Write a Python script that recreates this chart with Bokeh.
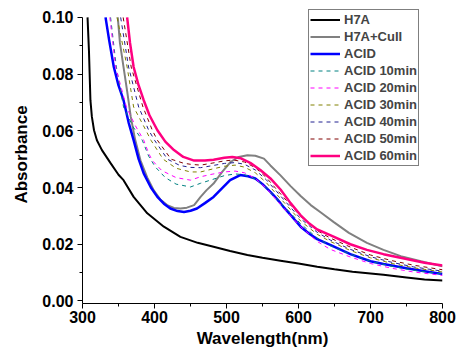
from bokeh.plotting import figure
from bokeh.models import FixedTicker, PrintfTickFormatter, Range1d, Legend, LegendItem
from bokeh.embed import file_html
from bokeh.resources import INLINE

# ---- data ----
h7a_x = [307, 309, 311, 313, 316, 320, 327, 339, 350, 357, 371, 390, 413, 436, 460, 482, 505, 529, 550, 575, 600, 626, 650, 675, 700, 718, 750, 775, 800]
h7a_y = [0.100, 0.088, 0.0708, 0.065, 0.0602, 0.0567, 0.0532, 0.0486, 0.0445, 0.0426, 0.0367, 0.0309, 0.0262, 0.0226, 0.0205, 0.0191, 0.0176, 0.0162, 0.0152, 0.0142, 0.0132, 0.0121, 0.0112, 0.0103, 0.0097, 0.0092, 0.0083, 0.0076, 0.0072]

cu_x = [349, 352, 357, 362, 367, 373, 380.5, 390, 399, 408, 417.6, 427, 436, 445, 455, 464, 472, 482, 494, 505.6, 517, 529, 540, 552, 561, 575, 589, 603, 617, 632, 649, 670, 695, 718, 742, 770, 800]
cu_y = [0.100, 0.091, 0.0825, 0.074, 0.065, 0.057, 0.0496, 0.0435, 0.039, 0.0358, 0.0338, 0.0328, 0.0326, 0.0329, 0.0338, 0.0367, 0.039, 0.0414, 0.0455, 0.049, 0.0508, 0.0514, 0.0512, 0.0502, 0.0478, 0.0443, 0.0405, 0.037, 0.0338, 0.031, 0.0278, 0.024, 0.0205, 0.018, 0.0158, 0.014, 0.0122]

acid_x = [332, 337, 343.5, 350, 357, 364, 371, 378, 385, 395, 404, 413, 422, 432, 441, 450, 459, 470, 482, 494, 505, 519, 530, 540, 550, 561, 570, 579, 589, 603, 615, 626, 644, 672, 700, 718, 750, 775, 800]
acid_y = [0.100, 0.092, 0.0825, 0.076, 0.0708, 0.063, 0.0567, 0.050, 0.045, 0.040, 0.0367, 0.0343, 0.0326, 0.0317, 0.0314, 0.0318, 0.0326, 0.0345, 0.0367, 0.0398, 0.0426, 0.0444, 0.0440, 0.0432, 0.0412, 0.0385, 0.036, 0.0332, 0.0303, 0.0262, 0.0237, 0.0218, 0.0198, 0.0165, 0.0140, 0.0130, 0.0115, 0.0105, 0.0095]

a10_x = [339, 347, 357, 370, 383, 392, 401, 415, 430, 450, 464, 480, 497, 512, 525, 540, 555, 570, 589, 603, 626, 644, 672, 700, 730, 760, 800]
a10_y = [0.100, 0.0825, 0.0684, 0.0615, 0.0567, 0.051, 0.0473, 0.0435, 0.0412, 0.0402, 0.0415, 0.0428, 0.0442, 0.0448, 0.0445, 0.0430, 0.0400, 0.0360, 0.031, 0.0272, 0.0222, 0.0195, 0.0165, 0.0140, 0.0122, 0.0108, 0.0095]

a20_x = [338, 346, 361, 373, 385, 392, 397, 410, 430, 450, 464, 480, 497, 512, 525, 540, 555, 570, 589, 603, 626, 644, 672, 700, 730, 760, 800]
a20_y = [0.100, 0.0825, 0.0684, 0.062, 0.0567, 0.052, 0.0495, 0.0460, 0.0435, 0.0426, 0.0438, 0.0447, 0.0455, 0.0458, 0.0452, 0.0432, 0.0398, 0.0355, 0.030, 0.0262, 0.0210, 0.0182, 0.0155, 0.0132, 0.0115, 0.0102, 0.009]

a30_x = [348, 362, 371, 388, 395, 412, 430, 450, 464, 480, 497, 512, 525, 540, 555, 570, 589, 603, 626, 644, 672, 700, 730, 760, 800]
a30_y = [0.100, 0.0825, 0.0684, 0.0602, 0.0567, 0.0500, 0.0468, 0.0455, 0.0455, 0.0465, 0.0475, 0.0479, 0.0472, 0.0452, 0.0418, 0.0375, 0.0322, 0.0282, 0.0235, 0.021, 0.0178, 0.0152, 0.0132, 0.0117, 0.0102]

a40_x = [353, 364, 378, 392, 400, 418, 435, 450, 464, 480, 497, 512, 525, 540, 555, 570, 589, 603, 626, 644, 672, 700, 730, 760, 800]
a40_y = [0.100, 0.0825, 0.0684, 0.0602, 0.0567, 0.0500, 0.0478, 0.0471, 0.0470, 0.0477, 0.0485, 0.0488, 0.0482, 0.0462, 0.0428, 0.0385, 0.0330, 0.029, 0.0242, 0.0215, 0.0182, 0.0156, 0.0136, 0.0120, 0.0105]

a50_x = [356.5, 367.6, 384, 397, 404, 423, 440, 450, 464, 480, 497, 510, 525, 540, 555, 570, 589, 603, 626, 644, 672, 700, 730, 760, 800]
a50_y = [0.100, 0.0825, 0.0684, 0.0602, 0.0567, 0.050, 0.0486, 0.0482, 0.0479, 0.0486, 0.0494, 0.0497, 0.0490, 0.0470, 0.0436, 0.0392, 0.0338, 0.0298, 0.0248, 0.0222, 0.0190, 0.0162, 0.0142, 0.0126, 0.011]

a60_x = [362, 366, 371, 378, 385, 393, 404, 415, 427, 440, 455, 470, 482, 497, 508, 520, 533, 547, 561, 575, 589, 603, 615, 626, 644, 672, 695, 718, 750, 775, 800]
a60_y = [0.100, 0.091, 0.0825, 0.076, 0.0708, 0.0655, 0.0602, 0.0562, 0.0532, 0.0508, 0.0495, 0.0495, 0.0498, 0.0505, 0.0508, 0.0503, 0.0487, 0.0462, 0.0432, 0.0393, 0.0345, 0.0302, 0.0273, 0.0252, 0.0232, 0.0200, 0.0180, 0.0165, 0.0148, 0.0135, 0.0125]

x_ticks = [300, 400, 500, 600, 700, 800]
x_minor = [350, 450, 550, 650, 750]
y_ticks = [0.00, 0.02, 0.04, 0.06, 0.08, 0.10]
y_minor = [0.01, 0.03, 0.05, 0.07, 0.09]

FONT = "Liberation Sans"

y0, y1 = -0.0009, 0.1042
p = figure(width=461, height=358, output_backend="svg", toolbar_location=None,
           x_range=Range1d(300, 800), y_range=Range1d(y0, y1),
           min_border_left=82, min_border_right=19, min_border_top=5, min_border_bottom=55)
p.outline_line_color = None
p.xgrid.visible = False
p.ygrid.visible = False
p.background_fill_color = "white"
p.border_fill_color = "white"

series = [
    ("H7A", h7a_x, h7a_y, "#000000", 2, "solid"),
    ("H7A+CuII", cu_x, cu_y, "#808080", 2, "solid"),
    ("ACID", acid_x, acid_y, "#0000FF", 2.5, "solid"),
    ("ACID 10min", a10_x, a10_y, "#008080", 1, "4 4"),
    ("ACID 20min", a20_x, a20_y, "#FF00FF", 1, "4 4"),
    ("ACID 30min", a30_x, a30_y, "#808000", 1, "4 4"),
    ("ACID 40min", a40_x, a40_y, "#202090", 1, "4 4"),
    ("ACID 50min", a50_x, a50_y, "#800000", 1, "4 4"),
    ("ACID 60min", a60_x, a60_y, "#FF0080", 2.5, "solid"),
]
items = []
for name, xs, ys, col, lw, dash in series:
    r = p.line(xs, ys, line_color=col, line_width=lw, line_dash=dash)
    items.append(LegendItem(label=name, renderers=[r]))

legend = Legend(items=items, location=(226, 137))
legend.label_text_font = FONT
legend.label_text_font_style = "bold"
legend.label_text_font_size = "13px"
legend.label_height = 17
legend.glyph_height = 17
legend.glyph_width = 30
legend.spacing = 0
legend.padding = 1
legend.margin = 0
legend.label_standoff = 4
legend.border_line_color = "black"
legend.border_line_width = 1
legend.background_fill_alpha = 1
p.add_layout(legend)

for ax in (p.xaxis[0], p.yaxis[0]):
    ax.axis_line_color = "black"
    ax.axis_line_width = 1
    ax.major_tick_line_color = "black"
    ax.minor_tick_line_color = "black"
    ax.major_tick_out = 5
    ax.major_tick_in = 0
    ax.minor_tick_out = 3
    ax.minor_tick_in = 0
    ax.major_label_text_font = FONT
    ax.major_label_text_font_style = "bold"
    ax.major_label_text_font_size = "16px"
    ax.major_label_text_color = "black"
    ax.axis_label_text_font = FONT
    ax.axis_label_text_font_style = "bold"
    ax.axis_label_text_font_size = "17px"
    ax.axis_label_text_color = "black"

p.yaxis.bounds = (y0, 0.100)
p.xaxis.ticker = FixedTicker(ticks=x_ticks, minor_ticks=x_minor)
p.yaxis.ticker = FixedTicker(ticks=y_ticks, minor_ticks=y_minor)
p.yaxis.formatter = PrintfTickFormatter(format="%.2f")
p.xaxis.axis_label = "Wavelength(nm)"
p.yaxis.axis_label = "Absorbance"
p.xaxis.major_label_standoff = 2
p.yaxis.major_label_standoff = 4
p.xaxis.axis_label_standoff = 3
p.yaxis.axis_label_standoff = 8

open("out.html", "w").write(file_html(p, INLINE))
